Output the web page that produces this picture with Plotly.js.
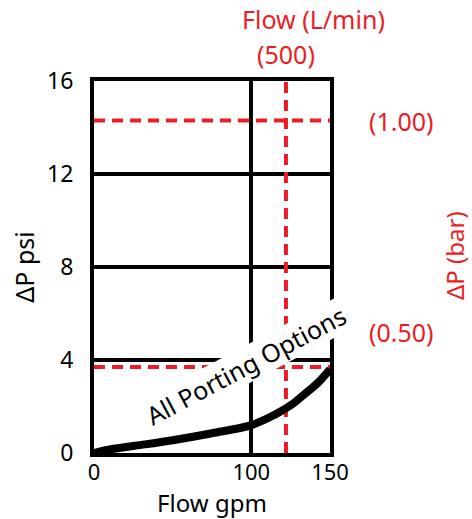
<!DOCTYPE html>
<html>
<head>
<meta charset="utf-8">
<script src="https://cdn.plot.ly/plotly-3.0.1.min.js"></script>
<style>html,body{margin:0;padding:0;background:#fff;}#chart{width:472px;height:519px;}</style>
</head>
<body>
<div id="chart"></div>
<script>
// Data
var flowGpm = [0, 10, 25, 50, 75, 100, 115, 125, 135, 142, 150];
var dpPsi   = [0, 0.15, 0.3, 0.55, 0.85, 1.2, 1.65, 2.05, 2.6, 3.0, 3.6];
var curveLabel = "All Porting Options";
var xTicks = [0, 100, 150];
var yTicks = [0, 4, 8, 12, 16];
var refFlowGpm = 122;      // (500) L/min marker
var refDp1Psi = 14.3;      // (1.00) bar marker
var refDp2Psi = 3.7;       // (0.50) bar marker
var xMax = 150, yMax = 16;

var red = "#ED1C24";
var font = "Noto Sans, Open Sans, sans-serif";
var tickSize = 23, labelSize = 25;

var dash = {color: red, width: 4, dash: "11px,7px"};
var traces = [
  {x: [refFlowGpm, refFlowGpm], y: [0, yMax], mode: "lines", line: dash, hoverinfo: "skip", showlegend: false},
  {x: [0, xMax], y: [refDp1Psi, refDp1Psi], mode: "lines", line: dash, hoverinfo: "skip", showlegend: false},
  {x: [0, xMax], y: [refDp2Psi, refDp2Psi], mode: "lines", line: dash, hoverinfo: "skip", showlegend: false},
  {x: flowGpm, y: dpPsi, mode: "lines", line: {color: "#000", width: 8, shape: "spline"}, showlegend: false}
];

function ann(text, xref, x, yref, y, color, size, angle, extra) {
  var a = {text: text, xref: xref, x: x, yref: yref, y: y, xanchor: "center", yanchor: "middle",
           showarrow: false, textangle: angle || 0, font: {color: color, size: size, family: font}};
  for (var k in (extra || {})) a[k] = extra[k];
  return a;
}

var layout = {
  width: 472, height: 519,
  margin: {l: 94, r: 142, t: 81, b: 66},
  paper_bgcolor: "#fff", plot_bgcolor: "#fff",
  font: {family: font, color: "#000", size: tickSize},
  xaxis: {
    range: [0, xMax], tickvals: xTicks, ticktext: xTicks.map(String),
    showgrid: true, gridcolor: "#000", gridwidth: 4, zeroline: false,
    showline: true, linecolor: "#000", linewidth: 4, mirror: true,
    ticks: "", ticklabelstandoff: -3,
    tickfont: {size: 22, family: font},
    title: {text: "Flow gpm", font: {size: 24, family: font}, standoff: 6}
  },
  yaxis: {
    range: [0, yMax], tickvals: yTicks, ticktext: yTicks.map(String),
    showgrid: true, gridcolor: "#000", gridwidth: 4, zeroline: false,
    showline: true, linecolor: "#000", linewidth: 4, mirror: true,
    ticks: "", ticklabelstandoff: 12,
    tickfont: {size: tickSize, family: font},
    title: {text: "ΔP psi", font: {size: labelSize, family: font}, standoff: 6}
  },
  annotations: [
    ann("Flow (L/min)", "paper", 0.928, "paper", 1.166, red, labelSize),
    ann("(500)", "x", refFlowGpm, "paper", 1.072, red, labelSize),
    ann("(1.00)", "paper", 1.305, "y", refDp1Psi, red, labelSize),
    ann("(0.50)", "paper", 1.305, "paper", 0.325, red, labelSize),
    ann("ΔP (bar)", "paper", 1.525, "paper", 0.532, red, 24, -90),
    ann(curveLabel, "paper", 0.644, "paper", 0.237, "#000", labelSize, -28, {bgcolor: "#fff", borderpad: 0})
  ]
};

Plotly.newPlot("chart", traces, layout, {staticPlot: true, displayModeBar: false});
</script>
</body>
</html>
